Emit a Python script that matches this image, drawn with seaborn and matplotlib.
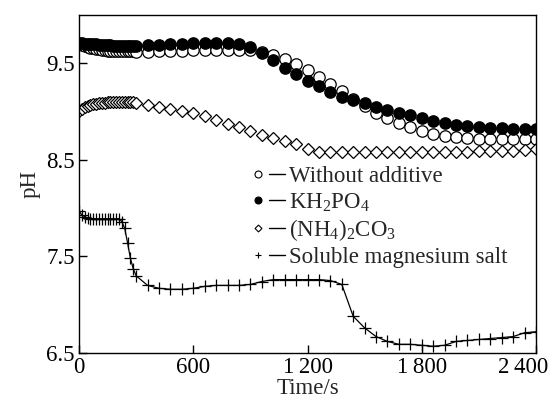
import matplotlib
matplotlib.use("Agg")
import matplotlib.pyplot as plt
import matplotlib.transforms as mtransforms
from matplotlib.lines import Line2D
from matplotlib.legend_handler import HandlerTuple
import seaborn as sns
import pandas as pd

# time axis: dense sampling at the start, then every minute
time_s = [0, 15, 30, 45, 60, 75, 90, 105, 120, 135, 150, 165, 180, 195, 210, 225, 240, 255, 270, 285,
          300, 360, 420, 480, 540, 600, 660, 720, 780, 840, 900, 960, 1020, 1080, 1140, 1200,
          1260, 1320, 1380, 1440, 1500, 1560, 1620, 1680, 1740, 1800, 1860, 1920, 1980, 2040,
          2100, 2160, 2220, 2280, 2340, 2400]

ph_none = [9.70, 9.69, 9.68, 9.67, 9.66, 9.66, 9.65, 9.65, 9.64, 9.64, 9.63, 9.63, 9.63, 9.63, 9.63,
           9.63, 9.63, 9.63, 9.63, 9.63,
           9.62, 9.62, 9.63, 9.63, 9.63, 9.64, 9.64, 9.64, 9.64, 9.64, 9.64, 9.62, 9.59, 9.54, 9.49,
           9.43, 9.36, 9.29, 9.21, 9.13, 9.06, 8.99, 8.93, 8.88, 8.84, 8.80, 8.77, 8.75, 8.74, 8.73,
           8.72, 8.72, 8.72, 8.72, 8.72, 8.72]

ph_kh2po4 = [9.71, 9.71, 9.70, 9.70, 9.70, 9.70, 9.70, 9.69, 9.69, 9.69, 9.69, 9.69, 9.68, 9.68, 9.68,
             9.68, 9.68, 9.68, 9.68, 9.68,
             9.68, 9.69, 9.69, 9.70, 9.70, 9.71, 9.71, 9.71, 9.71, 9.70, 9.67, 9.61, 9.53, 9.45, 9.39,
             9.32, 9.26, 9.20, 9.15, 9.12, 9.09, 9.05, 9.02, 8.99, 8.96, 8.93, 8.90, 8.88, 8.86, 8.85,
             8.84, 8.83, 8.83, 8.82, 8.82, 8.82]

ph_nh4co3 = [9.01, 9.03, 9.05, 9.06, 9.07, 9.08, 9.08, 9.09, 9.09, 9.09, 9.10, 9.10, 9.10, 9.10, 9.10,
             9.10, 9.10, 9.10, 9.10, 9.10,
             9.09, 9.07, 9.05, 9.03, 9.01, 8.98, 8.95, 8.91, 8.87, 8.84, 8.80, 8.76, 8.73, 8.70, 8.66,
             8.61, 8.58, 8.58, 8.58, 8.58, 8.58, 8.58, 8.58, 8.58, 8.58, 8.58, 8.58, 8.58, 8.58, 8.58,
             8.59, 8.59, 8.59, 8.59, 8.60, 8.61]

ph_mg = [7.97, 7.93, 7.91, 7.90, 7.89, 7.89, 7.89, 7.89, 7.89, 7.89, 7.89, 7.89, 7.89, 7.89, 7.89,
         7.86, 7.79, 7.64, 7.48, 7.37,
         7.30, 7.20, 7.17, 7.16, 7.16, 7.17, 7.19, 7.20, 7.20, 7.20, 7.21, 7.24, 7.26, 7.26, 7.26,
         7.26, 7.26, 7.25, 7.21, 6.88, 6.76, 6.67, 6.62, 6.59, 6.59, 6.58, 6.57, 6.58, 6.62, 6.63,
         6.64, 6.65, 6.66, 6.67, 6.71, 6.72]

labels = ["Without additive", r"KH$_2$PO$_4$", r"(NH$_4$)$_2$CO$_3$", "Soluble magnesium salt"]
x_ticks = [0, 600, 1200, 1800, 2400]
x_tick_labels = ["0", "600", "1\u2009200", "1\u2009800", "2\u2009400"]
y_ticks = [6.5, 7.5, 8.5, 9.5]

df = pd.DataFrame({"t": time_s, "none": ph_none, "kh": ph_kh2po4,
                   "nh": ph_nh4co3, "mg": ph_mg})

sns.set_theme(style="ticks")
plt.rcParams["font.family"] = ["Liberation Serif", "DejaVu Serif"]
plt.rcParams["mathtext.default"] = "regular"
plt.rcParams["axes.linewidth"] = 1.0

fig = plt.figure(figsize=(5.58, 4.04), dpi=100)
ax = fig.add_axes([0.1416, 0.1262, 0.819, 0.8368])

sns.lineplot(data=df, x="t", y="none", ax=ax, linestyle="", marker="o", markersize=8.2,
             markerfacecolor="white", markeredgecolor="black", markeredgewidth=0.9)
sns.lineplot(data=df, x="t", y="kh", ax=ax, linestyle="", marker="o", markersize=8.2,
             markerfacecolor="black", markeredgecolor="black", markeredgewidth=0.9)
sns.lineplot(data=df, x="t", y="nh", ax=ax, linestyle="", marker="D", markersize=6.0,
             markerfacecolor="white", markeredgecolor="black", markeredgewidth=0.9)
sns.lineplot(data=df, x="t", y="mg", ax=ax, color="black", linewidth=0.9, marker="+",
             markersize=8.5, markeredgecolor="black", markeredgewidth=0.9)

ax.set_xlim(0, 2400)
ax.set_ylim(6.5, 10.0)
ax.set_xticks(x_ticks)
ax.set_xticklabels(x_tick_labels)
ax.set_yticks(y_ticks)
ax.set_yticklabels([f"{v:.1f}" for v in y_ticks])
ax.tick_params(direction="in", length=6, width=1.0, labelsize=16.5, colors="black", pad=3)
ax.tick_params(top=False, right=False)
for sp in ax.spines.values():
    sp.set_visible(True)
    sp.set_color("black")

# the last x label is pulled left so it stays inside the figure
last = ax.get_xticklabels()[-1]
last.set_transform(last.get_transform() +
                   mtransforms.ScaledTranslation(-13 / 100, 0, fig.dpi_scale_trans))

ax.set_xlabel("Time/s", fontsize=16.5, labelpad=0)
ax.set_ylabel("pH", fontsize=16.5, labelpad=4)

# legend: small marker, then a short dash, then the label
mk = [("o", "white", 5.0), ("o", "black", 5.0), ("D", "white", 3.5), ("+", "black", 5.0)]
handles = []
for marker, face, size in mk:
    dot = Line2D([], [], linestyle="", marker=marker, markersize=size,
                 markerfacecolor=face, markeredgecolor="black", markeredgewidth=0.8)
    dash = Line2D([], [], color="black", linewidth=1.0)
    handles.append((dot, dash))
ax.legend(handles, labels, handler_map={tuple: HandlerTuple(ndivide=None, pad=0.1)},
          loc="upper left", bbox_to_anchor=(0.375, 0.552), frameon=False, fontsize=16.5,
          handlelength=1.5, handletextpad=0.2, labelspacing=0.17, borderpad=0, borderaxespad=0)

fig.savefig("out.png", dpi=100)
